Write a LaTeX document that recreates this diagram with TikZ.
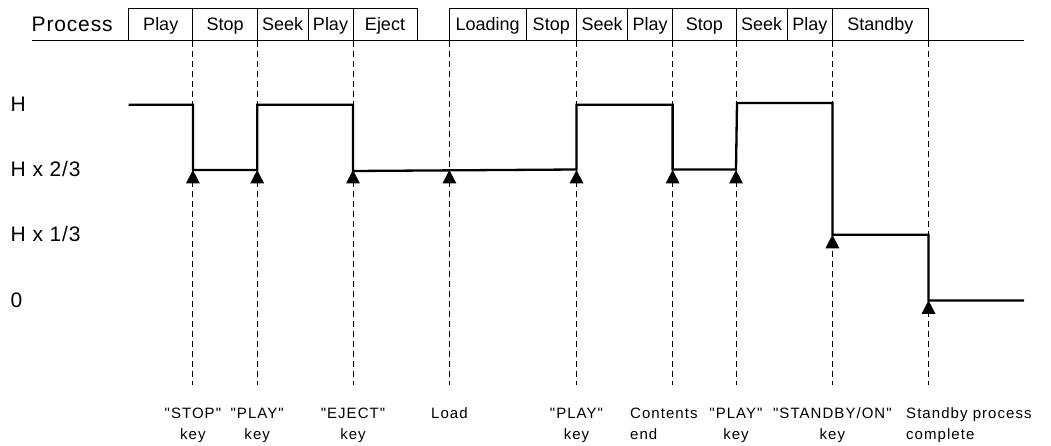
\documentclass[tikz,border=0pt]{standalone}
\usepackage{fontspec}
\setmainfont{Liberation Sans}
\newfontfamily\widefont[LetterSpace=4]{Liberation Sans}
\newfontfamily\keyfont[LetterSpace=7]{Liberation Sans}

\begin{document}
\begin{tikzpicture}[x=1pt, y=-1pt,
    wave/.style={line width=2.3pt, line join=miter},
    guide/.style={dash pattern=on 6pt off 4pt, line width=0.9pt},
    stage/.style={draw, line width=1pt},
    stagetext/.style={anchor=base, inner sep=0pt, font=\fontsize{18}{20}\selectfont},
    leveltext/.style={anchor=base west, inner sep=0pt, font=\widefont\fontsize{21}{24}\selectfont},
    keytext/.style={anchor=base, inner sep=0pt, align=center, font=\keyfont\fontsize{15}{21}\selectfont}]
    \useasboundingbox (0,0) rectangle (1051,446);

    % levels
    \coordinate (lvH) at (0,104.7);
    \coordinate (lvT) at (0,103);
    \coordinate (lvA) at (0,170);
    \coordinate (lvB) at (0,234.8);
    \coordinate (lvZ) at (0,300.4);
    \node[leveltext] (labH) at (10.5,112) {H};
    \node[leveltext] (labA) at (10.5,177) {H x 2/3};
    \node[leveltext] (labB) at (10.5,242) {H x 1/3};
    \node[leveltext] (labZ) at (10.5,307) {0};

    % process row
    \coordinate (rowL) at (32,41);
    \coordinate (rowR) at (1024,41);
    \node[anchor=base west, inner sep=0pt, font=\widefont\fontsize{21}{24}\selectfont] (proc) at (31.5,31.5) {Process};
    \foreach \a/\b/\t [count=\i] in {128.6/192.9/Play, 192.9/257.2/Stop, 257.2/308/Seek, 308/353/Play,
        353/417/Eject, 449.4/526/Loading, 526/576.5/Stop, 576.5/627.6/Seek, 627.6/672.6/Play,
        672.6/736/Stop, 736/787.3/Seek, 787.3/832.4/Play, 832.4/928.5/Standby}
    {
        \draw[stage] (\a,41) |- (\b,9) -- (\b,41);
        \node[stagetext] (st\i) at ({(\a+\b)/2},31) {\t};
    }
    \draw[line width=1pt] (rowL) -- (rowR);

    % events
    \foreach \n/\x in {stopk/192.9, playa/257.2, ejectk/353, loadk/449.4, playb/576.5,
        endk/672.6, playc/736, standk/832.4, donek/928.5}
    {
        \coordinate (\n) at (\x,41);
        \draw[guide] (\n) -- (\n |- 0,385);
    }

    % output level
    \draw[wave] (128.6,104.7) -- (stopk |- lvH) -- (stopk |- lvA) -- (playa |- lvA) -- (playa |- lvH)
        -- (ejectk |- lvH) -- ([yshift=-1pt]ejectk |- lvA) -- ([yshift=0.5pt]playb |- lvA) -- (playb |- lvH)
        -- (endk |- lvH) -- ([yshift=0.5pt]endk |- lvA) -- ([yshift=0.5pt]playc |- lvA) -- ([xshift=1pt]playc |- lvT)
        -- (standk |- lvT) -- (standk |- lvB) -- (donek |- lvB) -- (donek |- lvZ) -- (1024,300.4);

    \foreach \n/\l in {stopk/lvA, playa/lvA, ejectk/lvA, loadk/lvA, playb/lvA, endk/lvA, playc/lvA, standk/lvB, donek/lvZ}
        \fill (\n |- \l) -- ++(-7,13.5) -- ++(14,0) -- cycle;

    % key labels
    \node[keytext] (kstop) at (stopk |- 0,439) {"STOP"\\key};
    \node[keytext] (kplaya) at (playa |- 0,439) {"PLAY"\\key};
    \node[keytext] (keject) at (ejectk |- 0,439) {"EJECT"\\key};
    \node[keytext] (kload) at (loadk |- 0,418) {Load};
    \node[keytext] (kplayb) at (playb |- 0,439) {"PLAY"\\key};
    \node[keytext, anchor=base west, align=left] (kend) at (630,439) {Contents\\end};
    \node[keytext] (kplayc) at (playc |- 0,439) {"PLAY"\\key};
    \node[keytext] (kstand) at (standk |- 0,439) {"STANDBY/ON"\\key};
    \node[keytext, anchor=base west, align=left] (kdone) at (906,439) {Standby process\\complete};
\end{tikzpicture}
\end{document}
